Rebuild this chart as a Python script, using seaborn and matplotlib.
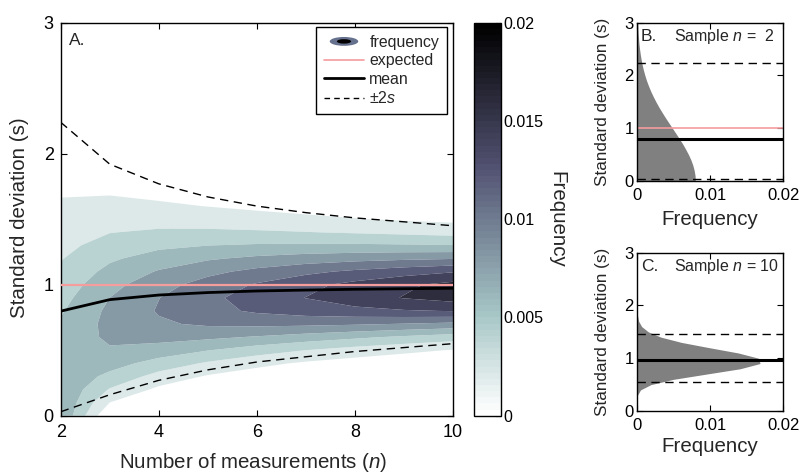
import numpy as np
import pandas as pd
import matplotlib
matplotlib.use("Agg")
import matplotlib.pyplot as plt
import seaborn as sns
from matplotlib.patches import Ellipse, Patch
from matplotlib.legend_handler import HandlerBase
from matplotlib.lines import Line2D
from matplotlib.colors import Normalize
from matplotlib.cm import ScalarMappable

# ---------------------------------------------------------------- data
n_values = [2, 3, 4, 5, 6, 7, 8, 9, 10]

# standard-deviation bins (s)
s_grid = [0.0, 0.1, 0.2, 0.3, 0.4, 0.5, 0.6, 0.7, 0.8, 0.9,
          1.0, 1.1, 1.2, 1.3, 1.4, 1.5, 1.6, 1.7, 1.8, 1.9,
          2.0, 2.1, 2.2, 2.3, 2.4, 2.5, 2.6, 2.7, 2.8, 2.9, 3.0]

# frequency of s per sample size (units of 1e-3)
freq_n2 = [7.98, 7.94, 7.82, 7.63, 7.37, 7.04, 6.66, 6.25, 5.79, 5.32,
           4.84, 4.36, 3.88, 3.43, 2.99, 2.59, 2.22, 1.88, 1.58, 1.31,
           1.08, 0.88, 0.71, 0.57, 0.45, 0.35, 0.27, 0.21, 0.16, 0.12, 0.09]
freq_n3 = [0.00, 1.98, 3.84, 5.48, 6.82, 7.79, 8.37, 8.58, 8.44, 8.01,
           7.36, 6.56, 5.69, 4.80, 3.94, 3.16, 2.47, 1.89, 1.41, 1.03,
           0.73, 0.51, 0.35, 0.23, 0.15, 0.10, 0.06, 0.04, 0.02, 0.01, 0.01]
freq_n4 = [0.00, 0.41, 1.56, 3.26, 5.22, 7.12, 8.70, 9.74, 10.16, 9.96,
           9.25, 8.17, 6.88, 5.56, 4.30, 3.19, 2.28, 1.57, 1.04, 0.67,
           0.41, 0.25, 0.14, 0.08, 0.04, 0.02, 0.00, 0.00, 0.00, 0.00, 0.00]
freq_n5 = [0.00, 0.08, 0.59, 1.80, 3.72, 6.07, 8.41, 10.30, 11.39, 11.54,
           10.83, 9.47, 7.76, 5.98, 4.36, 3.00, 1.96, 1.21, 0.72, 0.40,
           0.21, 0.11, 0.05, 0.02, 0.00, 0.00, 0.00, 0.00, 0.00, 0.00, 0.00]
freq_n6 = [0.00, 0.01, 0.22, 0.96, 2.55, 4.97, 7.83, 10.49, 12.30, 12.88,
           12.20, 10.57, 8.42, 6.21, 4.25, 2.71, 1.62, 0.90, 0.47, 0.23,
           0.11, 0.05, 0.02, 0.00, 0.00, 0.00, 0.00, 0.00, 0.00, 0.00, 0.00]
freq_n7 = [0.00, 0.00, 0.08, 0.50, 1.71, 3.99, 7.13, 10.43, 12.97, 14.04,
           13.44, 11.53, 8.94, 6.30, 4.06, 2.40, 1.31, 0.66, 0.31, 0.13,
           0.05, 0.02, 0.00, 0.00, 0.00, 0.00, 0.00, 0.00, 0.00, 0.00, 0.00]
freq_n8 = [0.00, 0.00, 0.03, 0.26, 1.13, 3.14, 6.39, 10.22, 13.47, 15.06,
           14.58, 12.38, 9.33, 6.29, 3.81, 2.09, 1.04, 0.47, 0.20, 0.07,
           0.02, 0.00, 0.00, 0.00, 0.00, 0.00, 0.00, 0.00, 0.00, 0.00, 0.00]
freq_n9 = [0.00, 0.00, 0.01, 0.13, 0.74, 2.45, 5.66, 9.90, 13.83, 16.10,
           15.63, 13.15, 9.63, 6.21, 3.54, 1.80, 0.82, 0.33, 0.12, 0.04,
           0.01, 0.00, 0.00, 0.00, 0.00, 0.00, 0.00, 0.00, 0.00, 0.00, 0.00]
freq_n10 = [0.00, 0.00, 0.00, 0.07, 0.48, 1.90, 4.97, 9.51, 14.08, 16.82,
            16.62, 13.84, 9.87, 6.07, 3.26, 1.54, 0.64, 0.23, 0.08, 0.02,
            0.01, 0.00, 0.00, 0.00, 0.00, 0.00, 0.00, 0.00, 0.00, 0.00, 0.00]

# summary statistics of s per sample size
mean_s = [0.798, 0.886, 0.921, 0.940, 0.952, 0.959, 0.965, 0.969, 0.973]
upper_s = [2.24, 1.92, 1.77, 1.67, 1.60, 1.55, 1.51, 1.48, 1.45]
lower_s = [0.03, 0.16, 0.27, 0.35, 0.41, 0.45, 0.49, 0.52, 0.55]
expected_s = 1.0

freq_ticks = [0, 0.005, 0.01, 0.015, 0.02]
freq_ticklabels = ["0", "0.005", "0.01", "0.015", "0.02"]

# ---------------------------------------------------------------- style
sns.set_theme(style="ticks")
plt.rcParams["font.family"] = ["Liberation Sans", "DejaVu Sans"]
plt.rcParams["mathtext.fontset"] = "custom"
plt.rcParams["mathtext.it"] = "Liberation Sans:italic"
plt.rcParams["mathtext.rm"] = "Liberation Sans"
plt.rcParams["axes.linewidth"] = 1.0
plt.rcParams["axes.edgecolor"] = "black"

LABEL = 14.8
PINK = "#f59c9c"

freq = np.array([freq_n2, freq_n3, freq_n4, freq_n5, freq_n6,
                 freq_n7, freq_n8, freq_n9, freq_n10]).T / 1000.0
s_arr = np.array(s_grid)

fig = plt.figure(figsize=(7.99, 4.75), dpi=100)
W, H = 799.0, 475.0


def px_axes(x0, y0, x1, y1):
    return fig.add_axes([x0 / W, 1 - y1 / H, (x1 - x0) / W, (y1 - y0) / H])


def box_ticks(ax, pad_x, pad_y, size):
    ax.tick_params(direction="in", length=4, width=0.8, top=True, right=True,
                   labelsize=size, colors="black")
    ax.tick_params(axis="x", pad=pad_x)
    ax.tick_params(axis="y", pad=pad_y)
    for sp in ax.spines.values():
        sp.set_visible(True)
        sp.set_linewidth(1.0)
        sp.set_color("black")


ax = px_axes(60.7, 22.7, 453, 415.7)
cax = px_axes(474, 22.7, 500.7, 415.7)
axb = px_axes(637, 22.7, 783.3, 181)
axc = px_axes(637, 252.7, 783.3, 411)

# ---------------------------------------------------------------- panel A
cmap = plt.get_cmap("bone_r")
vmax = 0.02
levels = [0.002, 0.004, 0.006, 0.008, 0.010, 0.012, 0.014, 0.016, 0.018, 0.020]
band_colors = [cmap(lv / vmax) for lv in levels[:-1]]
ax.contourf(n_values, s_arr, freq, levels=levels, colors=band_colors,
            antialiased=True, zorder=1)

ax.axhline(expected_s, color=PINK, lw=1.6, zorder=3)
stats = pd.DataFrame({"n": n_values, "mean": mean_s,
                      "upper": upper_s, "lower": lower_s})
sns.lineplot(data=stats, x="n", y="mean", ax=ax, color="black", lw=2.0,
             zorder=4)
sns.lineplot(data=stats, x="n", y="upper", ax=ax, color="black", lw=1.0,
             linestyle=(0, (6, 4)), zorder=4)
sns.lineplot(data=stats, x="n", y="lower", ax=ax, color="black", lw=1.0,
             linestyle=(0, (6, 4)), zorder=4)

ax.set_xlim(2, 10)
ax.set_ylim(0, 3)
ax.set_xticks([2, 4, 6, 8, 10])
ax.set_yticks([0, 1, 2, 3])
box_ticks(ax, 6, 5, 13)
ax.set_xlabel("Number of measurements ($n$)", fontsize=LABEL, va="center")
ax.set_ylabel("Standard deviation (s)", fontsize=LABEL, va="center")
ax.xaxis.set_label_coords(0.49, -0.118)
ax.yaxis.set_label_coords(-0.106, 0.505)
ax.text(0.02, 0.955, "A.", transform=ax.transAxes, fontsize=12.5,
        va="center", ha="left")


class FrequencyHandler(HandlerBase):
    def create_artists(self, legend, orig_handle, xdescent, ydescent,
                       width, height, fontsize, trans):
        cx = 0.5 * width - xdescent
        cy = 0.5 * height - ydescent
        outer = Ellipse((cx, cy), width * 0.72, height * 0.8,
                        facecolor="#66718d", edgecolor="none", transform=trans)
        inner = Ellipse((cx, cy), width * 0.36, height * 0.4,
                        facecolor="black", edgecolor="none", transform=trans)
        return [outer, inner]


freq_handle = Patch(facecolor="#66718d")
handles = [freq_handle,
           Line2D([], [], color=PINK, lw=1.2),
           Line2D([], [], color="black", lw=2.0),
           Line2D([], [], color="black", lw=1.0, linestyle=(0, (4, 3)))]
labels = ["frequency", "expected", "mean", "\u00b12$s$"]
leg = ax.legend(handles, labels, loc="upper right",
                bbox_to_anchor=(0.985, 0.989), borderaxespad=0,
                fontsize=11.4, handlelength=2.5, handletextpad=0.35,
                labelspacing=0.22, borderpad=0.5, fancybox=False,
                framealpha=1, edgecolor="black",
                handler_map={freq_handle: FrequencyHandler()})
leg.get_frame().set_linewidth(1.0)
leg.set_zorder(10)

# ---------------------------------------------------------------- colorbar
cbar_cmap = cmap.resampled(64)
sm = ScalarMappable(norm=Normalize(0, vmax), cmap=cbar_cmap)
cbar = fig.colorbar(sm, cax=cax, ticks=freq_ticks)
cbar.ax.set_yticklabels(freq_ticklabels)
cbar.outline.set_linewidth(1.0)
cbar.outline.set_edgecolor("black")
cbar.ax.tick_params(direction="in", length=4, width=0.8, labelsize=11.5,
                    pad=2, colors="black")
cbar.set_label("Frequency", rotation=270, fontsize=LABEL, va="center")
cbar.ax.yaxis.set_label_coords(3.11, 0.5)

# ---------------------------------------------------------------- panels B, C
def side_panel(axp, column, mean_v, up_v, lo_v, letter, ntext, xlab_y,
               show_expected):
    axp.fill_betweenx(s_arr, 0, column, color="#808080", lw=0, zorder=1)
    if show_expected:
        axp.axhline(expected_s, color=PINK, lw=1.2, zorder=2)
    axp.axhline(mean_v, color="black", lw=2.2, zorder=3)
    axp.axhline(up_v, color="black", lw=1.0, linestyle=(0, (6, 4)), zorder=3)
    axp.axhline(lo_v, color="black", lw=1.0, linestyle=(0, (6, 4)), zorder=3)
    axp.set_xlim(0, 0.02)
    axp.set_ylim(0, 3)
    axp.set_xticks([0, 0.01, 0.02])
    axp.set_xticklabels(["0", "0.01", "0.02"])
    axp.set_yticks([0, 1, 2, 3])
    box_ticks(axp, 5, 2.5, 12)
    axp.set_xlabel("Frequency", fontsize=LABEL, va="center")
    axp.set_ylabel("Standard deviation (s)", fontsize=12.3, va="center")
    axp.xaxis.set_label_coords(0.5, xlab_y)
    axp.yaxis.set_label_coords(-0.239, 0.5)
    axp.text(0.025, 0.91, letter, transform=axp.transAxes, fontsize=12.5,
             va="center", ha="left")
    axp.text(0.25, 0.91, ntext, transform=axp.transAxes, fontsize=11.5,
             va="center", ha="left")


side_panel(axb, freq[:, 0], mean_s[0], upper_s[0], lower_s[0], "B.",
           "Sample $n$ =  2", -0.246, True)
side_panel(axc, freq[:, -1], mean_s[-1], upper_s[-1], lower_s[-1], "C.",
           "Sample $n$ = 10", -0.227, False)

fig.savefig("out.png", dpi=100)
